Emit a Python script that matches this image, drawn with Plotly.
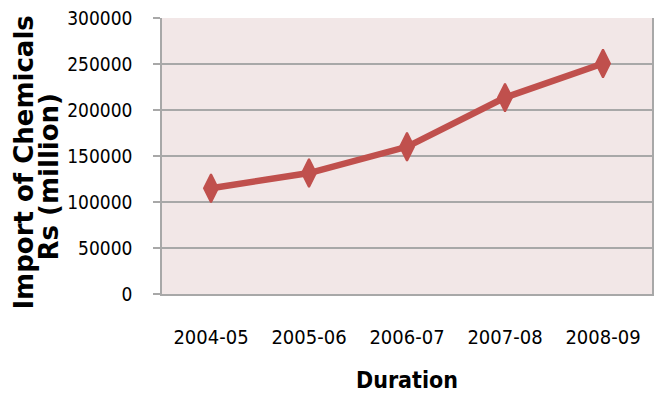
import plotly.graph_objects as go

# Import of chemicals, Rs (million), by financial year
durations = ["2004-05", "2005-06", "2006-07", "2007-08", "2008-09"]
imports = [115000, 131500, 160000, 213500, 250500]
y_ticks = [0, 50000, 100000, 150000, 200000, 250000, 300000]

RED = "#C0504D"
GRID = "#A8A8A8"
NARROW = "DejaVu Sans Condensed, DejaVu Sans, sans-serif"

W, H = 659, 396
L, R, T, B = 162, 5, 18, 102

fig = go.Figure()
fig.add_trace(go.Scatter(
    x=durations,
    y=imports,
    mode="lines+markers",
    line=dict(color=RED, width=6.5),
    marker=dict(symbol="diamond-tall", size=20, color=RED,
                line=dict(color=RED, width=2)),
    showlegend=False,
    hoverinfo="x+y",
))

fig.update_layout(
    width=W, height=H,
    margin=dict(l=L, r=R, t=T, b=B, pad=0),
    paper_bgcolor="white",
    plot_bgcolor="#F2E7E7",
    xaxis=dict(
        type="category",
        range=[-0.5, len(durations) - 0.5],
        showgrid=False,
        showline=True, linecolor=GRID, linewidth=1.5,
        ticks="",
        tickfont=dict(family=NARROW, size=20, color="black"),
        ticklabelstandoff=24,
        title=dict(text="<b>Duration</b>",
                   font=dict(family=NARROW, size=23, color="black"),
                   standoff=24),
        zeroline=False,
    ),
    yaxis=dict(
        range=[0, 300000],
        tickvals=y_ticks,
        ticktext=[str(v) for v in y_ticks],
        showgrid=True, gridcolor=GRID, gridwidth=1.5,
        showline=True, linecolor=GRID, linewidth=1.5, mirror=True,
        ticks="outside", ticklen=7, tickcolor=GRID, tickwidth=1.5,
        tickfont=dict(family=NARROW, size=19, color="black"),
        ticklabelstandoff=17,
        zeroline=False,
    ),
)

# Two-line rotated y-axis title
def px_to_paper_x(px):
    return (px - L) / (W - L - R)

def px_to_paper_y(py):
    return (H - B - py) / (H - T - B)

TITLE_FONT = dict(family="DejaVu Sans, Arial, sans-serif", size=26, color="black")
for text, cx, cy in [("<b>Import of Chemicals</b>", 23, 163),
                     ("<b>Rs (million)</b>", 49, 177)]:
    fig.add_annotation(
        text=text, textangle=-90,
        xref="paper", yref="paper",
        x=px_to_paper_x(cx), y=px_to_paper_y(cy),
        xanchor="center", yanchor="middle",
        showarrow=False, font=TITLE_FONT,
    )

fig.write_html("out.html")
